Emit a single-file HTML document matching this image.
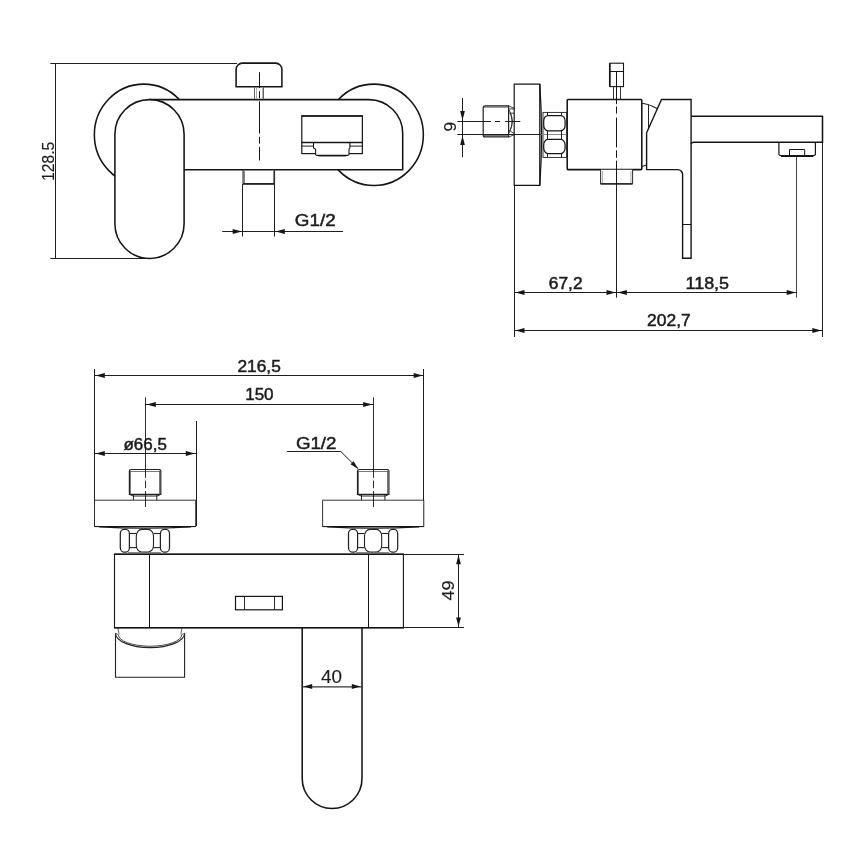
<!DOCTYPE html>
<html lang="en">
<head>
<meta charset="utf-8">
<title>Technical drawing</title>
<style>
html,body{margin:0;padding:0;background:#fff;}
body{width:868px;height:868px;overflow:hidden;}
svg{display:block;will-change:transform;filter:grayscale(1);}
text{font-family:"Liberation Sans",sans-serif;fill:#1c1c1c;}
</style>
</head>
<body>
<svg width="868" height="868" viewBox="0 0 868 868">
<rect x="0" y="0" width="868" height="868" fill="#ffffff"/>
<g id="view1">
<line x1="50.3" y1="63.5" x2="237" y2="63.5" stroke="#1e1e1e" stroke-width="1.0" />
<line x1="50.3" y1="258.5" x2="150" y2="258.5" stroke="#1e1e1e" stroke-width="1.0" />
<line x1="55.5" y1="63.1" x2="55.5" y2="258.4" stroke="#1e1e1e" stroke-width="1.0" />
<text x="53.6" y="161.3" font-size="17.4" text-anchor="middle" font-weight="400" stroke="#1c1c1c" stroke-width="0.15" transform="rotate(-90 53.6 161.3)" textLength="39.3" lengthAdjust="spacingAndGlyphs">128.5</text>
<ellipse cx="143.8" cy="134.8" rx="49.45" ry="50.7" stroke="#151515" stroke-width="1.55" fill="#fff"/>
<ellipse cx="373.9" cy="134.8" rx="49.45" ry="50.7" stroke="#151515" stroke-width="1.55" fill="#fff"/>
<path d="M150,99.6 H368.9 A33.8,33.8 0 0 1 402.7,133.4 V169.7 H150 Z" stroke="#151515" stroke-width="1.55" fill="#fff" />
<rect x="114.90" y="99.60" width="69.20" height="158.80" rx="34.6" stroke="#151515" stroke-width="1.55" fill="#fff"/>
<path d="M236.1,86.75 V69.4 A6.3,6.3 0 0 1 242.4,63.1 H275.6 A6.3,6.3 0 0 1 281.9,69.4 V86.75 Z" stroke="#151515" stroke-width="1.55" fill="#fff" />
<line x1="254.5" y1="86.9" x2="254.5" y2="99.4" stroke="#555" stroke-width="0.9" />
<line x1="263.5" y1="86.9" x2="263.5" y2="99.4" stroke="#555" stroke-width="0.9" />
<line x1="256.5" y1="88" x2="256.5" y2="98.5" stroke="#777" stroke-width="0.6" />
<line x1="262.5" y1="88" x2="262.5" y2="98.5" stroke="#777" stroke-width="0.6" />
<line x1="259.5" y1="72.2" x2="259.5" y2="160.5" stroke="#151515" stroke-width="1.0" stroke-dasharray="32.3 3.2 6.9 3.2" stroke-dashoffset="16.5"/>
<path d="M243.1,169.8 V183.9 H274.5 V169.8" stroke="#333" stroke-width="1.2" fill="none" />
<line x1="244.5" y1="171" x2="244.5" y2="183" stroke="#666" stroke-width="0.8" />
<line x1="273.5" y1="171" x2="273.5" y2="183" stroke="#666" stroke-width="0.8" />
<line x1="243.1" y1="183.9" x2="274.5" y2="183.9" stroke="#151515" stroke-width="1.4" />
<line x1="242.5" y1="184" x2="242.5" y2="236.5" stroke="#1e1e1e" stroke-width="1.0" />
<line x1="274.5" y1="184" x2="274.5" y2="236.5" stroke="#1e1e1e" stroke-width="1.0" />
<line x1="222.2" y1="231.5" x2="343" y2="231.5" stroke="#1e1e1e" stroke-width="1.0" />
<polygon points="241.90,231.50 232.70,233.90 232.70,229.10" fill="#151515"/>
<polygon points="275.60,231.50 284.80,229.10 284.80,233.90" fill="#151515"/>
<text x="315.2" y="226.2" font-size="17.2" text-anchor="middle" font-weight="400" stroke="#1c1c1c" stroke-width="0.5" textLength="40.8" lengthAdjust="spacingAndGlyphs">G1/2</text>
<rect x="301.80" y="115.95" width="60.55" height="37.65" rx="0" stroke="#151515" stroke-width="1.2" fill="none"/>
<line x1="301.3" y1="115.95" x2="362.9" y2="115.95" stroke="#151515" stroke-width="1.6" />
<path d="M313.5,142.4 V147.9 L315.6,149.3 V154.4 Q315.8,155.4 317,155.4 H347.6 Q348.8,155.4 349,154.4 V149.3 L349.9,147.9 V142.4" stroke="#151515" stroke-width="1.1" fill="#fff" />
<line x1="301.8" y1="142.4" x2="362.35" y2="142.4" stroke="#151515" stroke-width="1.5" />
<line x1="301.8" y1="146.1" x2="313.5" y2="146.1" stroke="#222" stroke-width="1.0" />
<line x1="349.9" y1="146.1" x2="362.35" y2="146.1" stroke="#222" stroke-width="1.0" />
<line x1="318.5" y1="155.8" x2="346.2" y2="155.8" stroke="#151515" stroke-width="1.3" />
</g>
<g id="view2">
<line x1="514.5" y1="185" x2="514.5" y2="337" stroke="#1e1e1e" stroke-width="1.0" />
<line x1="616.5" y1="184" x2="616.5" y2="297.6" stroke="#1e1e1e" stroke-width="1.0" />
<line x1="796.5" y1="156.5" x2="796.5" y2="297.6" stroke="#444" stroke-width="1.0" />
<line x1="822.5" y1="142" x2="822.5" y2="337" stroke="#1e1e1e" stroke-width="1.0" />
<line x1="514.3" y1="292.5" x2="796.6" y2="292.5" stroke="#1e1e1e" stroke-width="1.0" />
<line x1="514.3" y1="330.5" x2="822.5" y2="330.5" stroke="#1e1e1e" stroke-width="1.0" />
<polygon points="515.30,292.50 524.50,290.10 524.50,294.90" fill="#151515"/>
<polygon points="615.70,292.50 606.50,294.90 606.50,290.10" fill="#151515"/>
<polygon points="617.70,292.50 626.90,290.10 626.90,294.90" fill="#151515"/>
<polygon points="795.90,292.50 786.70,294.90 786.70,290.10" fill="#151515"/>
<polygon points="515.30,330.50 524.50,328.10 524.50,332.90" fill="#151515"/>
<polygon points="821.50,330.50 812.30,332.90 812.30,328.10" fill="#151515"/>
<text x="565.7" y="288.5" font-size="17.2" text-anchor="middle" font-weight="400" stroke="#1c1c1c" stroke-width="0.5" textLength="33.8" lengthAdjust="spacingAndGlyphs">67,2</text>
<text x="707.3" y="288.9" font-size="17.2" text-anchor="middle" font-weight="400" stroke="#1c1c1c" stroke-width="0.5" textLength="43.6" lengthAdjust="spacingAndGlyphs">118,5</text>
<text x="668.9" y="325.8" font-size="17.2" text-anchor="middle" font-weight="400" stroke="#1c1c1c" stroke-width="0.5" textLength="43.6" lengthAdjust="spacingAndGlyphs">202,7</text>
<line x1="457.3" y1="121.5" x2="491" y2="121.5" stroke="#1e1e1e" stroke-width="1.0" />
<line x1="457.3" y1="134.5" x2="546" y2="134.5" stroke="#1e1e1e" stroke-width="1.0" />
<line x1="462.5" y1="98" x2="462.5" y2="157.3" stroke="#1e1e1e" stroke-width="1.0" />
<polygon points="462.50,120.20 460.10,111.00 464.90,111.00" fill="#151515"/>
<polygon points="462.50,135.70 464.90,144.90 460.10,144.90" fill="#151515"/>
<text x="456.5" y="126.6" font-size="17.4" text-anchor="middle" font-weight="400" stroke="#1c1c1c" stroke-width="0.15" transform="rotate(-90 456.5 126.6)">9</text>
<path d="M508.6,105.9 H485.2 A2,2 0 0 0 483.2,107.9 V134.9 A2,2 0 0 0 485.2,136.9 H508.6 Z" stroke="#222" stroke-width="1.2" fill="#fff" />
<line x1="484" y1="107.1" x2="508.6" y2="107.1" stroke="#444" stroke-width="0.9" />
<line x1="484" y1="135.7" x2="508.6" y2="135.7" stroke="#444" stroke-width="0.9" />
<path d="M508.6,105.8 L514.6,108.6 M509.3,108.9 H514.6 M509.3,113.2 H514.6 M509,109.5 Q515.6,121.4 509,133 M510.3,113.4 Q514,121.4 510.3,129.6 M508.6,129.8 L514.6,133.9 M508.6,137 L514.6,134.6" stroke="#2a2a2a" stroke-width="0.9" fill="none" />
<path d="M514.2,84.1 H539.8 Q543.4,135 539.8,185.4 H514.2 Z" stroke="#151515" stroke-width="1.2" fill="#fff" />
<line x1="539.8" y1="84.1" x2="539.8" y2="185.4" stroke="#151515" stroke-width="1.3" />
<line x1="462" y1="134.5" x2="542" y2="134.5" stroke="#1e1e1e" stroke-width="1.0" />
<line x1="483.2" y1="121.5" x2="520.3" y2="121.5" stroke="#1e1e1e" stroke-width="1.0" stroke-dasharray="7.8 4 5.1 5 15.2 0"/>
<rect x="543.00" y="112.40" width="23.80" height="45.00" rx="0" stroke="#1e1e1e" stroke-width="0.9" fill="#fff"/>
<line x1="541" y1="134.5" x2="566" y2="134.5" stroke="#888" stroke-width="1.0" />
<rect x="543.70" y="115.55" width="21.40" height="15.20" rx="4.3" ry="5.5" stroke="#151515" stroke-width="1.25" fill="#fff"/>
<rect x="543.70" y="139.40" width="21.40" height="14.20" rx="4.3" ry="5.5" stroke="#151515" stroke-width="1.25" fill="#fff"/>
<line x1="547.5" y1="112.4" x2="547.5" y2="115.8" stroke="#222" stroke-width="1.0" />
<line x1="561.5" y1="112.4" x2="561.5" y2="115.8" stroke="#222" stroke-width="1.0" />
<line x1="547.5" y1="130.6" x2="547.5" y2="139.6" stroke="#222" stroke-width="1.0" />
<line x1="561.5" y1="130.6" x2="561.5" y2="139.6" stroke="#222" stroke-width="1.0" />
<line x1="547.5" y1="153.4" x2="547.5" y2="157.4" stroke="#222" stroke-width="1.0" />
<line x1="561.5" y1="153.4" x2="561.5" y2="157.4" stroke="#222" stroke-width="1.0" />
<rect x="567.20" y="99.40" width="74.60" height="70.20" rx="0.8" stroke="#151515" stroke-width="1.55" fill="#fff"/>
<rect x="609.90" y="63.20" width="13.60" height="23.40" rx="0" stroke="#151515" stroke-width="1.1" fill="#fff"/>
<line x1="609.7" y1="63.2" x2="609.7" y2="86.6" stroke="#151515" stroke-width="1.5" />
<line x1="609.9" y1="71.5" x2="623.5" y2="71.5" stroke="#151515" stroke-width="1.0" />
<line x1="613.5" y1="86.9" x2="613.5" y2="99.6" stroke="#333" stroke-width="1.0" />
<line x1="620.5" y1="86.9" x2="620.5" y2="99.6" stroke="#333" stroke-width="1.0" />
<path d="M600.6,169.8 V183.9 H632.6 V169.8" stroke="#2a2a2a" stroke-width="1.0" fill="#fff" />
<line x1="600.6" y1="183.9" x2="632.6" y2="183.9" stroke="#151515" stroke-width="1.4" />
<line x1="602.4" y1="171" x2="602.4" y2="183" stroke="#888" stroke-width="0.7" />
<line x1="630.9" y1="171" x2="630.9" y2="183" stroke="#888" stroke-width="0.7" />
<line x1="616.5" y1="71.9" x2="616.5" y2="104.2" stroke="#151515" stroke-width="1.0" />
<line x1="616.5" y1="106.5" x2="616.5" y2="184" stroke="#151515" stroke-width="1.0" stroke-dasharray="7 4 29.9 2.9 7.5 2.9 200 0"/>
<path d="M641.8,103.3 Q650,104.3 657.3,108.8 M641.8,166.5 L646.5,165" stroke="#222" stroke-width="1.1" fill="none" />
<line x1="648.5" y1="104.6" x2="648.5" y2="129.5" stroke="#222" stroke-width="1.0" />
<path d="M661.5,99.5 H691.1 V258.3 H682.6 V174.6 A5,5 0 0 0 677.6,169.6 H646.6 V132.8 Z" stroke="#151515" stroke-width="1.4" fill="#fff" />
<line x1="682.6" y1="224.5" x2="691.2" y2="224.5" stroke="#151515" stroke-width="1.0" />
<path d="M691.2,116.2 H822.5 V142.2 H693.5 Q691.5,142.4 691.2,144" stroke="#151515" stroke-width="1.55" fill="none" />
<path d="M778.9,142.2 V154.5 Q779.5,155.6 781,155.6 H813.3 Q815,155.6 815.4,154.5 V142.2" stroke="#151515" stroke-width="1.2" fill="none" />
<path d="M789.5,155.3 V149.5 H804.7 V155.3" stroke="#151515" stroke-width="1.0" fill="none" />
<line x1="781" y1="156.5" x2="813.3" y2="156.5" stroke="#151515" stroke-width="1.0" />
</g>
<g id="view3">
<line x1="94.5" y1="369" x2="94.5" y2="526" stroke="#1e1e1e" stroke-width="1.0" />
<line x1="423.5" y1="369" x2="423.5" y2="526" stroke="#1e1e1e" stroke-width="1.0" />
<line x1="94.6" y1="375.5" x2="423.8" y2="375.5" stroke="#1e1e1e" stroke-width="1.0" />
<polygon points="95.60,375.50 104.80,373.10 104.80,377.90" fill="#151515"/>
<polygon points="422.80,375.50 413.60,377.90 413.60,373.10" fill="#151515"/>
<text x="259.1" y="372.1" font-size="17.2" text-anchor="middle" font-weight="400" stroke="#1c1c1c" stroke-width="0.5" textLength="43.4" lengthAdjust="spacingAndGlyphs">216,5</text>
<line x1="145.3" y1="404.5" x2="373.5" y2="404.5" stroke="#1e1e1e" stroke-width="1.0" />
<polygon points="146.60,404.50 155.80,402.10 155.80,406.90" fill="#151515"/>
<polygon points="372.30,404.50 363.10,406.90 363.10,402.10" fill="#151515"/>
<text x="259.4" y="400.2" font-size="17.2" text-anchor="middle" font-weight="400" stroke="#1c1c1c" stroke-width="0.5" textLength="28.4" lengthAdjust="spacingAndGlyphs">150</text>
<line x1="196.5" y1="421" x2="196.5" y2="526" stroke="#1e1e1e" stroke-width="1.0" />
<line x1="94.6" y1="453.5" x2="196" y2="453.5" stroke="#1e1e1e" stroke-width="1.0" />
<polygon points="95.60,453.50 104.80,451.10 104.80,455.90" fill="#151515"/>
<polygon points="195.00,453.50 185.80,455.90 185.80,451.10" fill="#151515"/>
<text x="145.2" y="450.1" font-size="17.2" text-anchor="middle" font-weight="400" stroke="#1c1c1c" stroke-width="0.5" textLength="43.4" lengthAdjust="spacingAndGlyphs">ø66,5</text>
<text x="316.2" y="448.5" font-size="17.2" text-anchor="middle" font-weight="400" stroke="#1c1c1c" stroke-width="0.5" textLength="40.6" lengthAdjust="spacingAndGlyphs">G1/2</text>
<path d="M286.9,451.5 H340.8 L358.1,468.7" stroke="#1e1e1e" stroke-width="1.0" fill="none" />
<polygon points="358.30,468.90 350.51,464.26 353.61,461.14" fill="#151515"/>
<path d="M129.4,471 Q129.4,469.5 130.9,469.5 H159.29999999999998 Q160.79999999999998,469.5 160.79999999999998,471 V494.4 H129.4 Z" stroke="#222" stroke-width="1.2" fill="#fff" />
<line x1="130.5" y1="470.5" x2="130.5" y2="494.4" stroke="#555" stroke-width="0.8" />
<line x1="159.5" y1="470.5" x2="159.5" y2="494.4" stroke="#555" stroke-width="0.8" />
<line x1="130.1" y1="471.5" x2="160.1" y2="471.5" stroke="#555" stroke-width="0.8" />
<path d="M129.4,494.4 L133.4,496.2 M160.79999999999998,494.4 L156.79999999999998,496.2 M133.4,494.4 V500.2 M156.79999999999998,494.4 V500.2 M133.4,496 H156.79999999999998" stroke="#222" stroke-width="1.0" fill="none" />
<path d="M94.5,500.2 H195.7 V526.6 H94.5 Z" stroke="#1e1e1e" stroke-width="0.9" fill="#fff" />
<path d="M94.5,526.5 H195.7 M99.1,526.9 Q145.1,529.4 191.1,526.9" stroke="#151515" stroke-width="1.15" fill="none" />
<line x1="145.5" y1="397.4" x2="145.5" y2="507" stroke="#151515" stroke-width="0.9" stroke-dasharray="80.4 2.8 7.6 2.8 20 0"/>
<rect x="120.30" y="529.40" width="9.10" height="22.60" rx="3.5" ry="4.5" stroke="#222" stroke-width="1.25" fill="#fff"/>
<rect x="160.40" y="529.40" width="9.10" height="22.60" rx="3.5" ry="4.5" stroke="#222" stroke-width="1.25" fill="#fff"/>
<rect x="136.30" y="529.40" width="17.20" height="22.60" rx="5.5" ry="6.5" stroke="#222" stroke-width="1.1" fill="#fff"/>
<line x1="129.4" y1="533.5" x2="136.3" y2="533.5" stroke="#222" stroke-width="1.1" />
<line x1="129.4" y1="547.6" x2="136.3" y2="547.6" stroke="#222" stroke-width="1.1" />
<line x1="153.5" y1="533.5" x2="160.4" y2="533.5" stroke="#222" stroke-width="1.1" />
<line x1="153.5" y1="547.6" x2="160.4" y2="547.6" stroke="#222" stroke-width="1.1" />
<line x1="127.9" y1="552.5" x2="160.9" y2="552.5" stroke="#666" stroke-width="0.8" />
<path d="M357.5,471 Q357.5,469.5 359.0,469.5 H387.4 Q388.9,469.5 388.9,471 V494.4 H357.5 Z" stroke="#222" stroke-width="1.2" fill="#fff" />
<line x1="358.5" y1="470.5" x2="358.5" y2="494.4" stroke="#555" stroke-width="0.8" />
<line x1="387.5" y1="470.5" x2="387.5" y2="494.4" stroke="#555" stroke-width="0.8" />
<line x1="358.2" y1="471.5" x2="388.2" y2="471.5" stroke="#555" stroke-width="0.8" />
<path d="M357.5,494.4 L361.5,496.2 M388.9,494.4 L384.9,496.2 M361.5,494.4 V500.2 M384.9,494.4 V500.2 M361.5,496 H384.9" stroke="#222" stroke-width="1.0" fill="none" />
<path d="M322.59999999999997,500.2 H423.8 V526.6 H322.59999999999997 Z" stroke="#1e1e1e" stroke-width="0.9" fill="#fff" />
<path d="M322.59999999999997,526.5 H423.8 M327.2,526.9 Q373.2,529.4 419.2,526.9" stroke="#151515" stroke-width="1.15" fill="none" />
<line x1="373.5" y1="397.4" x2="373.5" y2="507" stroke="#151515" stroke-width="0.9" stroke-dasharray="80.4 2.8 7.6 2.8 20 0"/>
<rect x="348.50" y="529.40" width="9.10" height="22.60" rx="3.5" ry="4.5" stroke="#222" stroke-width="1.25" fill="#fff"/>
<rect x="388.60" y="529.40" width="9.10" height="22.60" rx="3.5" ry="4.5" stroke="#222" stroke-width="1.25" fill="#fff"/>
<rect x="364.50" y="529.40" width="17.20" height="22.60" rx="5.5" ry="6.5" stroke="#222" stroke-width="1.1" fill="#fff"/>
<line x1="357.6" y1="533.5" x2="364.5" y2="533.5" stroke="#222" stroke-width="1.1" />
<line x1="357.6" y1="547.6" x2="364.5" y2="547.6" stroke="#222" stroke-width="1.1" />
<line x1="381.70000000000005" y1="533.5" x2="388.6" y2="533.5" stroke="#222" stroke-width="1.1" />
<line x1="381.70000000000005" y1="547.6" x2="388.6" y2="547.6" stroke="#222" stroke-width="1.1" />
<line x1="356.1" y1="552.5" x2="389.1" y2="552.5" stroke="#666" stroke-width="0.8" />
<path d="M115.5,633.2 V677.2 H184.6 V633.2" stroke="#222" stroke-width="1.1" fill="#fff" />
<path d="M115.5,633.2 A34.55,14.4 0 0 0 184.6,633.2" stroke="#222" stroke-width="1.1" fill="#fff" />
<path d="M118.3,634.6 A31.7,11.6 0 0 0 181.8,634.6" stroke="#333" stroke-width="0.9" fill="none" />
<path d="M115.5,633.2 L118.3,634.6 M184.6,633.2 L181.8,634.6 M117.8,627.7 L119.2,634.4 M181.9,627.7 L180.9,634.4" stroke="#444" stroke-width="0.8" fill="none" />
<path d="M302.2,627.6 V778.6 A29.9,29.9 0 0 0 362,778.6 V627.6" stroke="#151515" stroke-width="1.55" fill="#fff" />
<rect x="114.50" y="554.20" width="288.90" height="73.50" rx="0" stroke="#151515" stroke-width="1.1" fill="#fff"/>
<line x1="113.9" y1="554.2" x2="404" y2="554.2" stroke="#151515" stroke-width="1.5" />
<line x1="113.9" y1="627.7" x2="404" y2="627.7" stroke="#151515" stroke-width="1.5" />
<line x1="149.5" y1="554.3" x2="149.5" y2="627.6" stroke="#151515" stroke-width="1.0" />
<line x1="368.5" y1="554.3" x2="368.5" y2="627.6" stroke="#151515" stroke-width="1.0" />
<rect x="235.50" y="596.40" width="46.90" height="13.40" rx="0" stroke="#151515" stroke-width="1.2" fill="none"/>
<line x1="244.5" y1="596.4" x2="244.5" y2="609.8" stroke="#151515" stroke-width="0.9" />
<line x1="274.5" y1="596.4" x2="274.5" y2="609.8" stroke="#151515" stroke-width="0.9" />
<line x1="302.2" y1="686.9" x2="362" y2="686.9" stroke="#333" stroke-width="1.1" />
<polygon points="303.60,686.50 312.20,684.10 312.20,688.90" fill="#151515"/>
<polygon points="360.40,686.50 351.80,688.90 351.80,684.10" fill="#151515"/>
<text x="331.5" y="682.9" font-size="17.8" text-anchor="middle" font-weight="400" stroke="#1c1c1c" stroke-width="0.15" textLength="21" lengthAdjust="spacingAndGlyphs">40</text>
<line x1="403.6" y1="554.5" x2="464" y2="554.5" stroke="#1e1e1e" stroke-width="1.0" />
<line x1="403.6" y1="627.5" x2="464" y2="627.5" stroke="#1e1e1e" stroke-width="1.0" />
<line x1="458.5" y1="554.1" x2="458.5" y2="627.6" stroke="#1e1e1e" stroke-width="1.0" />
<polygon points="458.50,555.10 460.90,564.30 456.10,564.30" fill="#151515"/>
<polygon points="458.50,626.60 456.10,617.40 460.90,617.40" fill="#151515"/>
<text x="454.3" y="590.4" font-size="17.4" text-anchor="middle" font-weight="400" stroke="#1c1c1c" stroke-width="0.15" transform="rotate(-90 454.3 590.4)" textLength="20.2" lengthAdjust="spacingAndGlyphs">49</text>
</g>
</svg>
</body>
</html>
